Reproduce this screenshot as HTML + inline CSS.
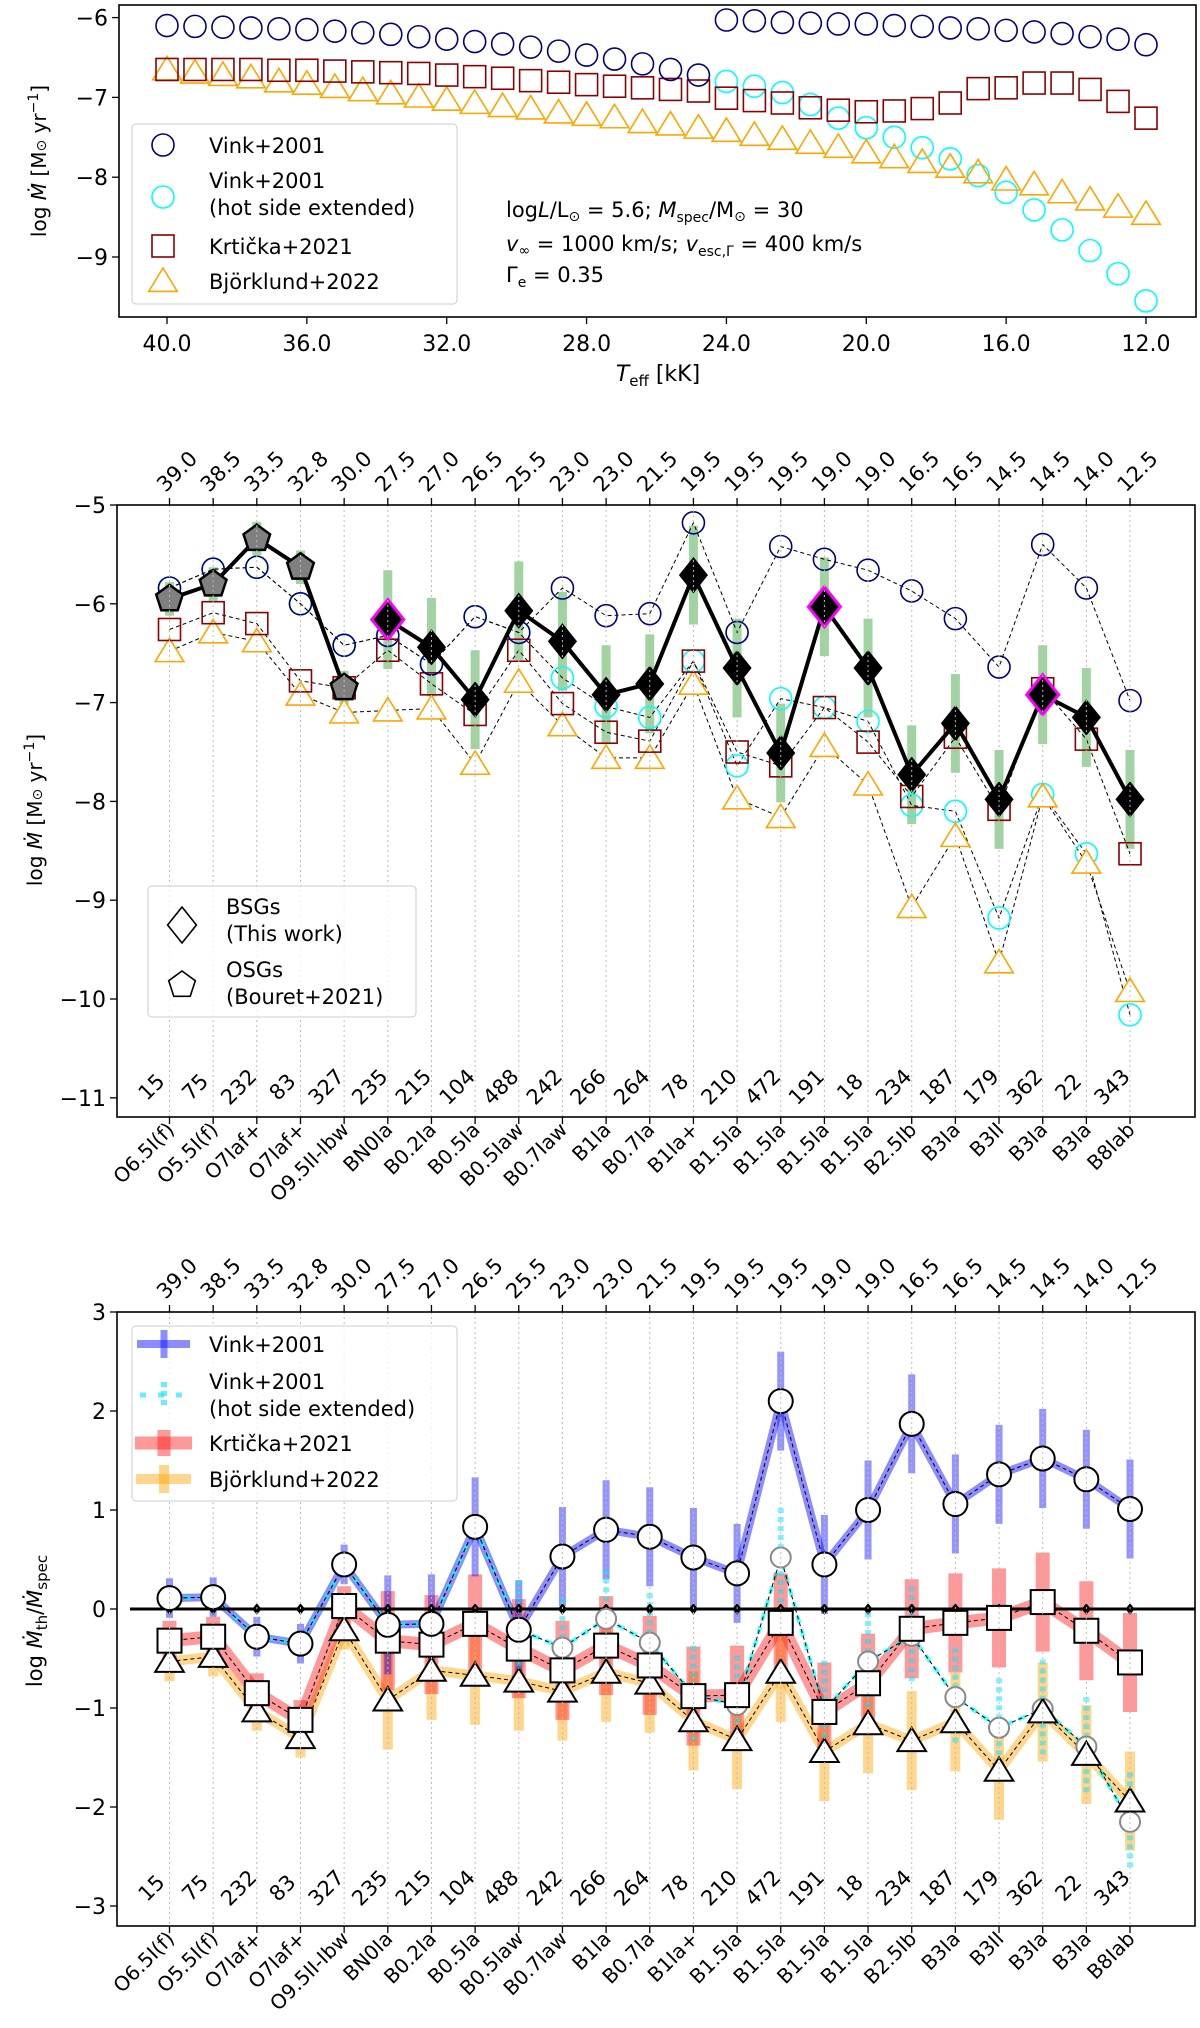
<!DOCTYPE html>
<html><head><meta charset="utf-8">
<style>
html,body{margin:0;padding:0;background:#fff;}
svg{display:block;font-family:"DejaVu Sans","Liberation Sans",sans-serif;}
</style></head>
<body>
<svg id="fig" width="1200" height="2028" viewBox="0 0 1200 2028" xmlns="http://www.w3.org/2000/svg"></svg>
<script>
// ---------- Panel 1 data (model grid, 36 Teff steps from 40 to 12 kK) ----------
const p1TickLabels = ["40.0","36.0","32.0","28.0","24.0","20.0","16.0","12.0"];
const p1TickValues = [40,36,32,28,24,20,16,12];
const p1YTicks = [-6,-7,-8,-9];
const p1VinkHot = [-6.10,-6.11,-6.12,-6.13,-6.14,-6.15,-6.17,-6.19,-6.21,-6.24,-6.27,-6.30,-6.33,-6.37,-6.42,-6.47,-6.52,-6.58,-6.65,-6.72];
const p1VinkCool = [-6.03,-6.04,-6.06,-6.07,-6.08,-6.08,-6.10,-6.11,-6.13,-6.14,-6.16,-6.18,-6.20,-6.24,-6.27,-6.34];
const p1VinkExt = [-6.80,-6.86,-6.94,-7.09,-7.26,-7.38,-7.50,-7.63,-7.77,-7.98,-8.19,-8.41,-8.66,-8.92,-9.21,-9.55];
const p1Krticka = [-6.65,-6.65,-6.65,-6.65,-6.66,-6.66,-6.67,-6.68,-6.69,-6.70,-6.72,-6.74,-6.76,-6.79,-6.81,-6.84,-6.86,-6.88,-6.90,-6.92,-7.01,-7.04,-7.07,-7.13,-7.16,-7.18,-7.17,-7.14,-7.07,-6.89,-6.88,-6.82,-6.82,-6.90,-7.05,-7.26];
const p1Bjorklund = [-6.65,-6.69,-6.72,-6.75,-6.80,-6.83,-6.87,-6.91,-6.95,-6.99,-7.03,-7.07,-7.11,-7.14,-7.19,-7.22,-7.25,-7.31,-7.34,-7.38,-7.42,-7.47,-7.52,-7.57,-7.62,-7.69,-7.75,-7.81,-7.87,-7.94,-8.03,-8.09,-8.19,-8.28,-8.37,-8.46];

// ---------- Panel 2/3 categorical data ----------
const categories = ["O6.5I(f)","O5.5I(f)","O7Iaf+","O7Iaf+","O9.5II-Ibw","BN0Ia","B0.2Ia","B0.5Ia","B0.5Iaw","B0.7Iaw","B1Ia","B0.7Ia","B1Ia+","B1.5Ia","B1.5Ia","B1.5Ia","B1.5Ia","B2.5Ib","B3Ia","B3II","B3Ia","B3Ia","B8Iab"];
const teffLabels = ["39.0","38.5","33.5","32.8","30.0","27.5","27.0","26.5","25.5","23.0","23.0","21.5","19.5","19.5","19.5","19.0","19.0","16.5","16.5","14.5","14.5","14.0","12.5"];
const starIds = ["15","75","232","83","327","235","215","104","488","242","266","264","78","210","472","191","18","234","187","179","362","22","343"];
const p2YTicks = [-5,-6,-7,-8,-9,-10,-11];
const p2Vink = [-5.84,-5.65,-5.63,-6.00,-6.42,-6.32,-6.61,-6.13,-6.29,-5.84,-6.12,-6.10,-5.18,-6.29,-5.42,-5.55,-5.66,-5.87,-6.15,-6.64,-5.40,-5.84,-6.98];
const p2VinkExt = [-5.84,-5.65,-5.63,-6.00,-6.42,-6.32,-6.61,-6.13,-6.29,-6.75,-7.04,-7.15,-6.58,-7.64,-6.96,-7.05,-7.19,-8.04,-8.10,-9.18,-7.93,-8.53,-10.16];
const p2Krticka = [-6.26,-6.09,-6.20,-6.78,-6.85,-6.47,-6.81,-7.12,-6.47,-7.01,-7.30,-7.39,-6.58,-7.50,-7.64,-7.05,-7.40,-7.95,-7.35,-8.08,-6.86,-7.37,-8.53];
const p2Bjorklund = [-6.48,-6.29,-6.38,-6.92,-7.10,-7.08,-7.06,-7.62,-6.79,-7.23,-7.56,-7.56,-6.81,-7.97,-8.16,-7.44,-7.83,-9.07,-8.35,-9.63,-7.95,-8.62,-9.92];
const osgMdot = [-5.95,-5.80,-5.34,-5.63,-6.85];
const bsgMdot = [-6.16,-6.44,-6.97,-6.07,-6.38,-6.92,-6.81,-5.71,-6.65,-7.51,-6.03,-6.65,-7.73,-7.21,-7.98,-6.92,-7.15,-7.98];
const mdotErr = [0.17,0.17,0.17,0.17,0.17,0.5,0.5,0.5,0.5,0.5,0.5,0.5,0.5,0.5,0.5,0.5,0.5,0.5,0.5,0.5,0.5,0.5,0.5];
const magentaIdx = [5,15,20];

const p3YTicks = [3,2,1,0,-1,-2,-3];
const p3Vink = [0.11,0.12,-0.28,-0.35,0.45,-0.16,-0.15,0.83,-0.21,0.53,0.80,0.73,0.52,0.36,2.10,0.45,1.00,1.87,1.06,1.36,1.52,1.31,1.01];
const p3VinkExt = [0.11,0.12,-0.28,-0.35,0.45,-0.16,-0.15,0.83,-0.21,-0.39,-0.10,-0.34,-0.87,-0.97,0.52,-1.02,-0.53,-0.27,-0.89,-1.20,-1.01,-1.39,-2.15];
const p3Krticka = [-0.32,-0.28,-0.85,-1.12,0.03,-0.32,-0.36,-0.15,-0.40,-0.62,-0.37,-0.57,-0.88,-0.87,-0.14,-1.04,-0.75,-0.20,-0.14,-0.09,0.07,-0.22,-0.54];
const p3Bjorklund = [-0.53,-0.48,-1.03,-1.30,-0.21,-0.92,-0.62,-0.67,-0.73,-0.83,-0.64,-0.75,-1.13,-1.32,-0.64,-1.44,-1.16,-1.33,-1.14,-1.63,-1.04,-1.47,-1.94];
const ratioErr = [0.2,0.2,0.2,0.2,0.2,0.5,0.5,0.5,0.5,0.5,0.5,0.5,0.5,0.5,0.5,0.5,0.5,0.5,0.5,0.5,0.5,0.5,0.5];

// ---------- helpers ----------
const NS="http://www.w3.org/2000/svg";
const svg=document.getElementById('fig');
function mk(tag,attrs,parent){const e=document.createElementNS(NS,tag);for(const k in attrs)e.setAttribute(k,attrs[k]);(parent||svg).appendChild(e);return e;}
function txt(s,attrs,parent){const e=mk('text',attrs,parent);e.textContent=s;return e;}
function circ(x,y,r,stroke,fill,sw,name,g){const e=mk('circle',{cx:x,cy:y,r:r,stroke:stroke,fill:fill,'stroke-width':sw},g);


return e;}
function sq(x,y,h,stroke,fill,sw,name,g){const e=mk('rect',{x:x-h,y:y-h,width:2*h,height:2*h,stroke:stroke,fill:fill,'stroke-width':sw},g);


return e;}
function tri(x,y,h,stroke,fill,sw,name,g){const e=mk('polygon',{points:`${x},${y-h} ${x-h*1.1},${y+h*0.8} ${x+h*1.1},${y+h*0.8}`,stroke:stroke,fill:fill,'stroke-width':sw,'stroke-linejoin':'miter'},g);


return e;}
function dia(x,y,h,stroke,fill,sw,name,g){const e=mk('polygon',{points:`${x},${y-h} ${x+h*0.8},${y} ${x},${y+h} ${x-h*0.8},${y}`,stroke:stroke,fill:fill,'stroke-width':sw},g);


return e;}
function pent(x,y,r,stroke,fill,sw,name,g){let p=[];for(let k=0;k<5;k++){const a=-Math.PI/2+k*2*Math.PI/5;p.push((x+r*Math.cos(a)).toFixed(1)+','+(y+r*Math.sin(a)).toFixed(1));}
const e=mk('polygon',{points:p.join(' '),stroke:stroke,fill:fill,'stroke-width':sw},g);


return e;}
function poly(pts,stroke,sw,dash,name,g,op){const e=mk('polyline',{points:pts.map(p=>p[0].toFixed(1)+','+p[1].toFixed(1)).join(' '),fill:'none',stroke:stroke,'stroke-width':sw,'stroke-linejoin':'round'},g);
if(dash)e.setAttribute('stroke-dasharray',dash);
if(op)e.setAttribute('stroke-opacity',op);


return e;}
function vline(x,y1,y2,stroke,sw,name,g,dash){const e=mk('line',{x1:x,x2:x,y1:y1,y2:y2,stroke:stroke,'stroke-width':sw},g);
if(dash)e.setAttribute('stroke-dasharray',dash);


return e;}

// ================= PANEL 1 =================
const P1={l:119,r:1196,t:5,b:317};
const p1x=i=>167+i*(1146-167)/35;
const p1xT=T=>167+(40-T)*(1146-167)/28;
const p1y=v=>17.6+(-6-v)*79.8;
const g1=mk('g',{});


p1VinkExt.forEach((v,k)=>circ(p1x(20+k),p1y(v),11,'cyan','none',1.6,'vink-ext-point',g1));
p1Bjorklund.forEach((v,i)=>tri(p1x(i),p1y(v),13,'orange','none',1.6,'bjorklund-point',g1));
p1Krticka.forEach((v,i)=>sq(p1x(i),p1y(v),11,'#8b0000','none',1.6,'krticka-point',g1));
p1VinkHot.forEach((v,i)=>circ(p1x(i),p1y(v),11,'navy','none',1.6,'vink-point',g1));
p1VinkCool.forEach((v,k)=>circ(p1x(20+k),p1y(v),11,'navy','none',1.6,'vink-point',g1));
const f1=mk('rect',{x:P1.l,y:P1.t,width:P1.r-P1.l,height:P1.b-P1.t,fill:'none',stroke:'#000','stroke-width':1.6});


p1TickValues.forEach((T,i)=>{const x=p1xT(T);mk('line',{x1:x,x2:x,y1:P1.b,y2:P1.b+7,stroke:'#000','stroke-width':1.3});
const t=txt(p1TickLabels[i],{x:x,y:P1.b+34,'text-anchor':'middle','font-size':22});

});
p1YTicks.forEach(v=>{const y=p1y(v);mk('line',{x1:P1.l-7,x2:P1.l,y1:y,y2:y,stroke:'#000','stroke-width':1.3});
const t=txt('\u2212'+Math.abs(v),{x:P1.l-11,y:y+8,'text-anchor':'end','font-size':22});

});
const xt1=txt('',{x:658,y:381,'text-anchor':'middle','font-size':22});
xt1.innerHTML='<tspan font-style="italic">T</tspan><tspan font-size="15" dy="5">eff</tspan><tspan dy="-5"> [kK]</tspan>';


const yt1=txt('',{transform:'translate(46,161) rotate(-90)','text-anchor':'middle','font-size':20});
yt1.innerHTML='log <tspan font-style="italic">Ṁ</tspan> [M<tspan font-size="14">⊙</tspan> yr<tspan font-size="14" dy="-8">−1</tspan><tspan dy="8">]</tspan>';


const lg1=mk('rect',{x:132,y:124,width:325,height:180,rx:4,fill:'#fff','fill-opacity':0.8,stroke:'#ccc','stroke-width':1});


circ(163,145,11,'navy','none',1.6,'legend-marker-vink');
circ(163,197,11,'cyan','none',1.6,'legend-marker-vink-ext');
sq(163,246,11,'#8b0000','none',1.6,'legend-marker-krticka');
tri(163,281,13,'orange','none',1.6,'legend-marker-bjorklund');
[["Vink+2001",153],["Vink+2001",188],["(hot side extended)",215],["Krtička+2021",254],["Björklund+2022",289]].forEach(([s,y])=>{const t=txt(s,{x:209,y:y,'font-size':21});

});
const an=mk('g',{'font-size':21});


txt('',{x:506,y:217},an).innerHTML='log<tspan font-style="italic">L</tspan>/L<tspan font-size="14" dy="4">⊙</tspan><tspan dy="-4"> = 5.6; </tspan><tspan font-style="italic">M</tspan><tspan font-size="14" dy="5">spec</tspan><tspan dy="-5">/M</tspan><tspan font-size="14" dy="4">⊙</tspan><tspan dy="-4"> = 30</tspan>';
txt('',{x:506,y:251},an).innerHTML='<tspan font-style="italic">v</tspan><tspan font-size="14" dy="4">∞</tspan><tspan dy="-4"> = 1000 km/s; </tspan><tspan font-style="italic">v</tspan><tspan font-size="14" dy="5">esc,Γ</tspan><tspan dy="-5"> = 400 km/s</tspan>';
txt('',{x:506,y:282},an).innerHTML='Γ<tspan font-size="14" dy="5">e</tspan><tspan dy="-5"> = 0.35</tspan>';

// ================= shared categorical axis =================
const cx=i=>169.5+i*43.66;
function catAxes(P,topY,numY,name){
  const g=mk('g',{});
  
  
  categories.forEach((c,i)=>{const x=cx(i);
    vline(x,P.t,P.b,'#bbb',1,'grid-line',g,'2,3');
    mk('line',{x1:x,x2:x,y1:P.t-7,y2:P.t,stroke:'#000','stroke-width':1.3},g);
    mk('line',{x1:x,x2:x,y1:P.b,y2:P.b+7,stroke:'#000','stroke-width':1.3},g);
    const a=txt(teffLabels[i],{transform:`translate(${x-4},${P.t-12}) rotate(-45)`,'font-size':21},g);
    
    
    const b=txt(starIds[i],{transform:`translate(${x-13},${numY}) rotate(-45)`,'text-anchor':'middle','font-size':21},g);
    
    
    const s=txt(c,{transform:`translate(${x+6},${P.b+14}) rotate(-45)`,'text-anchor':'end','font-size':20},g);
    
    
  });
  return g;
}

// ================= PANEL 2 =================
const P2={l:117,r:1195,t:505,b:1117};
const p2y=v=>505+(-5-v)*98.8;
const g2=mk('g',{});


catAxes(P2,0,1092,'panel-2');
const idx=categories.map((c,i)=>i);
mdotErr.forEach((e,i)=>{const v=i<5?osgMdot[i]:bsgMdot[i-5];vline(cx(i),p2y(v+e),p2y(v-e),'rgba(44,160,44,0.45)',9,'mdot-error-bar',g2);});
poly(idx.map(i=>[cx(i),p2y(p2VinkExt[i])]),'#000',1,'4,3','vink-ext-line',g2);
poly(idx.map(i=>[cx(i),p2y(p2Vink[i])]),'#000',1,'4,3','vink-line',g2);
poly(idx.map(i=>[cx(i),p2y(p2Krticka[i])]),'#000',1,'4,3','krticka-line',g2);
poly(idx.map(i=>[cx(i),p2y(p2Bjorklund[i])]),'#000',1,'4,3','bjorklund-line',g2);
p2VinkExt.forEach((v,i)=>circ(cx(i),p2y(v),11,'cyan','none',1.6,'vink-ext-point',g2));
p2Bjorklund.forEach((v,i)=>tri(cx(i),p2y(v),13,'orange','#fff',1.6,'bjorklund-point',g2));
p2Krticka.forEach((v,i)=>sq(cx(i),p2y(v),11,'#8b0000','none',1.6,'krticka-point',g2));
p2Vink.forEach((v,i)=>circ(cx(i),p2y(v),11,'navy','none',1.6,'vink-point',g2));
poly(osgMdot.map((v,i)=>[cx(i),p2y(v)]),'#000',4,null,'osg-line',g2);
poly(bsgMdot.map((v,k)=>[cx(k+5),p2y(v)]),'#000',4,null,'bsg-line',g2);
osgMdot.forEach((v,i)=>pent(cx(i),p2y(v),14,'#000','#808080',2.5,'osg-point',g2));
bsgMdot.forEach((v,k)=>{const i=k+5;const m=magentaIdx.includes(i);dia(cx(i),p2y(v),m?20:17,m?'magenta':'#000','#000',m?3:1.5,'bsg-point',g2);});
const f2=mk('rect',{x:P2.l,y:P2.t,width:P2.r-P2.l,height:P2.b-P2.t,fill:'none',stroke:'#000','stroke-width':1.6});


p2YTicks.forEach(v=>{const y=p2y(v);mk('line',{x1:P2.l-7,x2:P2.l,y1:y,y2:y,stroke:'#000','stroke-width':1.3});
const t=txt('\u2212'+Math.abs(v),{x:P2.l-11,y:y+8,'text-anchor':'end','font-size':22});

});
const yt2=txt('',{transform:'translate(42,810) rotate(-90)','text-anchor':'middle','font-size':20});
yt2.innerHTML='log <tspan font-style="italic">Ṁ</tspan> [M<tspan font-size="14">⊙</tspan> yr<tspan font-size="14" dy="-8">−1</tspan><tspan dy="8">]</tspan>';


const lg2=mk('rect',{x:148,y:886,width:268,height:131,rx:4,fill:'#fff','fill-opacity':0.8,stroke:'#ccc','stroke-width':1});


dia(182,925,18,'#000','none',1.6,'legend-marker-bsg');
pent(182,985,14,'#000','none',1.6,'legend-marker-osg');
[["BSGs",914],["(This work)",941],["OSGs",977],["(Bouret+2021)",1004]].forEach(([s,y])=>{const t=txt(s,{x:226,y:y,'font-size':21});

});

// ================= PANEL 3 =================
const P3={l:117,r:1195,t:1312,b:1926};
const p3y=v=>1609-v*99;
const g3=mk('g',{});


catAxes(P3,0,1893,'panel-3');
poly(idx.map(i=>[cx(i),p3y(p3Bjorklund[i])]),'orange',10,null,'bjorklund-band',g3,0.45);
poly(idx.map(i=>[cx(i),p3y(p3Krticka[i])]),'red',13,null,'krticka-band',g3,0.4);
poly(idx.map(i=>[cx(i),p3y(p3Vink[i])]),'blue',8,null,'vink-band',g3,0.45);
poly(idx.map(i=>[cx(i),p3y(p3VinkExt[i])]),'cyan',4,'8,6','vink-ext-band',g3,0.7);
ratioErr.forEach((e,i)=>{
 vline(cx(i),p3y(p3Bjorklund[i]+e),p3y(p3Bjorklund[i]-e),'rgba(255,165,0,0.45)',10,'bjorklund-error-bar',g3);
 vline(cx(i),p3y(p3Krticka[i]+e),p3y(p3Krticka[i]-e),'rgba(255,0,0,0.4)',14,'krticka-error-bar',g3);
 vline(cx(i),p3y(p3Vink[i]+e),p3y(p3Vink[i]-e),'rgba(0,0,255,0.42)',7,'vink-error-bar',g3);
 if(i>=8||p3VinkExt[i]!==p3Vink[i]) vline(cx(i),p3y(p3VinkExt[i]+e),p3y(p3VinkExt[i]-e),'rgba(0,230,255,0.5)',6,'vink-ext-error-bar',g3,'5,4');
});
const zl=mk('line',{x1:130,x2:P3.r,y1:p3y(0),y2:p3y(0),stroke:'#000','stroke-width':3},g3);


idx.forEach(i=>dia(cx(i),p3y(0),5,'#000','#000',1,'zero-marker',g3));
poly(idx.map(i=>[cx(i),p3y(p3VinkExt[i])]),'#000',1,'4,3','vink-ext-line',g3);
poly(idx.map(i=>[cx(i),p3y(p3Bjorklund[i])]),'#000',1,'4,3','bjorklund-line',g3);
poly(idx.map(i=>[cx(i),p3y(p3Krticka[i])]),'#000',1,'4,3','krticka-line',g3);
poly(idx.map(i=>[cx(i),p3y(p3Vink[i])]),'#000',1,'4,3','vink-line',g3);
p3VinkExt.forEach((v,i)=>circ(cx(i),p3y(v),10,'#888','#fff',2,'vink-ext-point',g3));
p3Bjorklund.forEach((v,i)=>tri(cx(i),p3y(v),13,'#000','#fff',2,'bjorklund-point',g3));
p3Krticka.forEach((v,i)=>sq(cx(i),p3y(v),12,'#000','#fff',2,'krticka-point',g3));
p3Vink.forEach((v,i)=>circ(cx(i),p3y(v),12,'#000','#fff',2,'vink-point',g3));
const f3=mk('rect',{x:P3.l,y:P3.t,width:P3.r-P3.l,height:P3.b-P3.t,fill:'none',stroke:'#000','stroke-width':1.6});


p3YTicks.forEach(v=>{const y=p3y(v);mk('line',{x1:P3.l-7,x2:P3.l,y1:y,y2:y,stroke:'#000','stroke-width':1.3});
const t=txt(v<0?'\u2212'+Math.abs(v):String(v),{x:P3.l-11,y:y+8,'text-anchor':'end','font-size':22});

});
const yt3=txt('',{transform:'translate(42,1621) rotate(-90)','text-anchor':'middle','font-size':21});
yt3.innerHTML='log <tspan font-style="italic">Ṁ</tspan><tspan font-size="15" dy="5">th</tspan><tspan dy="-5">/</tspan><tspan font-style="italic">Ṁ</tspan><tspan font-size="15" dy="5">spec</tspan>';


const lg3=mk('rect',{x:132,y:1326,width:325,height:175,rx:4,fill:'#fff','fill-opacity':0.8,stroke:'#ccc','stroke-width':1});


mk('line',{x1:137,x2:190,y1:1344,y2:1344,stroke:'rgba(0,0,255,0.45)','stroke-width':8});
vline(164,1330,1358,'rgba(0,0,255,0.45)',7,'legend-marker-vink');
mk('line',{x1:140,x2:187,y1:1395,y2:1395,stroke:'rgba(0,230,255,0.6)','stroke-width':5,'stroke-dasharray':'6,12'});
vline(164,1382,1408,'rgba(0,230,255,0.6)',6,'legend-marker-vink-ext',null,'5,4');
mk('line',{x1:135,x2:192,y1:1443,y2:1443,stroke:'rgba(255,0,0,0.4)','stroke-width':13});
vline(164,1430,1456,'rgba(255,0,0,0.4)',13,'legend-marker-krticka');
mk('line',{x1:136,x2:191,y1:1479,y2:1479,stroke:'rgba(255,165,0,0.45)','stroke-width':10});
vline(164,1465,1493,'rgba(255,165,0,0.45)',10,'legend-marker-bjorklund');
[["Vink+2001",1352],["Vink+2001",1389],["(hot side extended)",1416],["Krtička+2021",1451],["Björklund+2022",1487]].forEach(([s,y])=>{const t=txt(s,{x:209,y:y,'font-size':21});

});
</script>
</body></html>
